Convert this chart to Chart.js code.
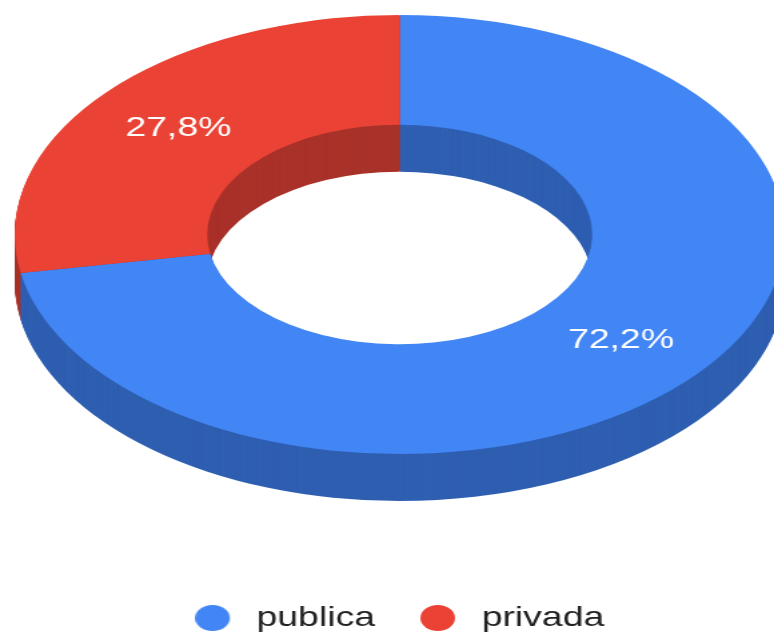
<!DOCTYPE html>
<html>
<head>
<meta charset="utf-8">
<script src="https://cdn.jsdelivr.net/npm/chart.js@4"></script>
<style>
  html, body { margin: 0; padding: 0; background: #fff; overflow: hidden; height: 632px; }
  /* the reference is a chart rendered narrow and stretched sideways;
     the canvas starts above the page so the ring sits high like the original */
  #wrap { width: 580px; height: 743px; margin-top: -101px; transform: scaleX(1.3345); transform-origin: 0 0; }
</style>
</head>
<body>
<div id="wrap"><canvas id="chart"></canvas></div>
<script>
// Data
const labels = ['publica', 'privada'];
const shares = [72.2, 27.8];
const topColors = ['#4285f4', '#ea4335'];
const sideColors = ['#2f5fb1', '#a9322a'];

const TILT = 0.761;   // vertical squash of the ring
const DEPTH = 47;     // thickness of the 3d side, px

// Round marker drawn to the left of a 32px wide box
function dot(color) {
    const c = document.createElement('canvas');
    c.width = 32;
    c.height = 26;
    const g = c.getContext('2d');
    g.fillStyle = color;
    g.beginPath();
    g.arc(13, 13, 13, 0, Math.PI * 2);
    g.fill();
    return c;
}

// Draws the ring as a tilted, extruded donut plus the percent labels
const donut3d = {
    id: 'donut3d',
    beforeDatasetsDraw(chart) {
        const ctx = chart.ctx;
        const arcs = chart.getDatasetMeta(0).data;
        const total = shares.reduce((a, b) => a + b, 0);

        const paint = (dy, colors) => arcs.forEach((arc, i) => {
            const { x, y, startAngle, endAngle, innerRadius, outerRadius } =
                arc.getProps(['x', 'y', 'startAngle', 'endAngle', 'innerRadius', 'outerRadius'], true);
            ctx.save();
            ctx.translate(x, y + dy);
            ctx.scale(1, TILT);
            ctx.beginPath();
            ctx.arc(0, 0, outerRadius, startAngle, endAngle);
            ctx.arc(0, 0, innerRadius, endAngle, startAngle, true);
            ctx.closePath();
            ctx.fillStyle = colors[i];
            ctx.fill();
            ctx.restore();
        });

        for (let dy = DEPTH; dy > 0; dy--) paint(dy, sideColors);
        paint(0, topColors);

        // labels
        ctx.save();
        ctx.fillStyle = '#ffffff';
        ctx.font = '28px "Liberation Sans", Arial, sans-serif';
        ctx.textAlign = 'center';
        ctx.textBaseline = 'middle';
        arcs.forEach((arc, i) => {
            const p = arc.getCenterPoint(true);
            const cy = arc.y + (p.y - arc.y) * TILT;
            const txt = (shares[i] / total * 100).toFixed(1).replace('.', ',') + '%';
            ctx.fillText(txt, p.x, cy);
        });
        ctx.restore();
        return false;
    }
};

const ctx = document.getElementById('chart').getContext('2d');
const chart = new Chart(ctx, {
    type: 'doughnut',
    data: {
        labels: labels,
        datasets: [{
            data: shares,
            backgroundColor: topColors,
            borderWidth: 0,
            radius: 288.5,
            cutout: '50%'
        }]
    },
    options: {
        responsive: true,
        maintainAspectRatio: false,
        animation: false,
        layout: { padding: { left: 19, right: 0, top: 0, bottom: 0 } },
        plugins: {
            tooltip: { enabled: false },
            legend: {
                position: 'bottom',
                labels: {
                    usePointStyle: true,
                    pointStyleWidth: 32,
                    padding: 34,
                    color: '#222222',
                    font: { family: '"Liberation Sans", Arial, sans-serif', size: 28 },
                    generateLabels: (c) => c.data.labels.map((text, i) => ({
                        text: text,
                        fillStyle: topColors[i],
                        strokeStyle: topColors[i],
                        lineWidth: 0,
                        pointStyle: dot(topColors[i]),
                        fontColor: '#222222',
                        hidden: false,
                        index: i
                    }))
                }
            }
        }
    },
    plugins: [donut3d]
});
</script>
</body>
</html>
